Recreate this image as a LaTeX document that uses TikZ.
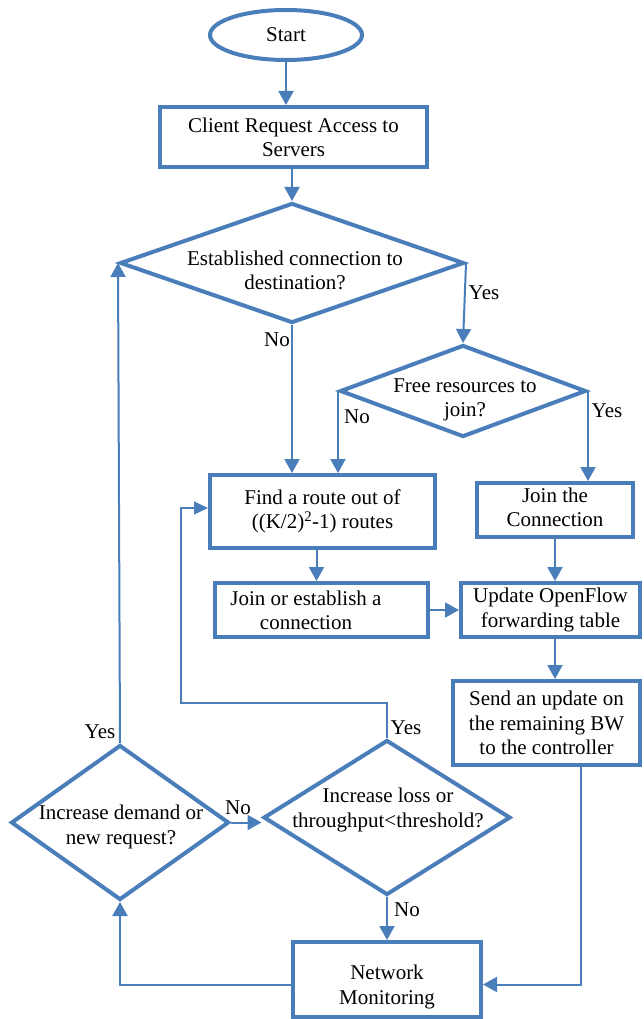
\documentclass[tikz,border=0pt]{standalone}
\usepackage{fontspec}
\setmainfont{Liberation Serif}
\usetikzlibrary{shapes.geometric,arrows.meta,calc}
\definecolor{flowblue}{HTML}{4A7EBB}
\begin{document}
\begin{tikzpicture}[x=1pt, y=-1pt,
  font=\fontsize{21}{24.2}\selectfont,
  box/.style={draw=flowblue, line width=4pt, rectangle, inner sep=0pt, align=center},
  dia/.style={draw=flowblue, line width=4pt, diamond, inner sep=0pt},
  oval/.style={draw=flowblue, line width=4pt, ellipse, inner sep=0pt},
  txt/.style={align=center, inner sep=0pt},
  lbl/.style={inner sep=0pt},
  conn/.style={draw=flowblue, line width=2pt, -{Triangle[length=14pt,width=15pt]}},
  thinconn/.style={draw=flowblue, line width=1.2pt, -{Triangle[length=14pt,width=13pt]}}]
\useasboundingbox (0,0) rectangle (643,1019);

% shapes
\node[oval, minimum width=152pt, minimum height=50pt] (start) at (286,35) {Start};
\node[box, minimum width=267pt, minimum height=60pt] (client) at (293.5,137) {Client Request Access to\\Servers};
\node[dia, minimum width=344pt, minimum height=120pt] (d1) at (292,263) {};
\node[txt] (t1) at (295,270) {Established connection to\\destination?};
\node[dia, minimum width=246pt, minimum height=92pt] (d2) at (463,391) {};
\node[txt] (t2) at (465,400) {Free resources to\\join?};
\node[box, minimum width=225pt, minimum height=73pt] (find) at (322.5,511.5) {Find a route out of\\((K/2)\textsuperscript{2}-1) routes};
\node[box, minimum width=156pt, minimum height=54pt] (joinc) at (555,510) {};
\node[txt] (tjoinc) at (555,507) {Join the\\Connection};
\node[box, minimum width=213pt, minimum height=54pt] (jo) at (321.5,610) {};
\node[txt] (tjo) at (306,610) {Join or establish a\\connection};
\node[box, minimum width=179pt, minimum height=54pt] (upd) at (550.5,610) {Update OpenFlow\\forwarding table};
\node[box, minimum width=187pt, minimum height=84pt] (send) at (546.5,723) {Send an update on\\the remaining BW\\to the controller};
\node[dia, minimum width=247pt, minimum height=155pt] (d3) at (387,817.5) {};
\node[txt] (t3) at (388,810) {Increase loss or\\throughput<threshold?};
\node[dia, minimum width=218pt, minimum height=155pt] (d4) at (120,822.5) {};
\node[txt] (t4) at (121,827) {Increase demand or\\new request?};
\node[box, minimum width=188pt, minimum height=75pt] (net) at (387,979.5) {};
\node[txt] (tnet) at (387,987) {Network\\Monitoring};

% connectors
\draw[conn] (start.south) -- (start.south |- client.north);
\draw[conn] (d1.north |- client.south) -- (d1.north);
\draw[conn] (d1.east) -- (d2.north);
\draw[conn] (d1.south) -- (d1.south |- find.north);
\draw[conn] (d2.west) -- (d2.west |- find.north);
\draw[conn] (d2.east) -- (d2.east |- joinc.north);
\coordinate (fs) at ($(find.south)+(-6,0)$);
\draw[conn] (fs) -- (fs |- jo.north);
\draw[conn] (jo.east) -- (jo.east -| upd.west);
\draw[conn] (joinc.south) -- (joinc.south |- upd.north);
\draw[conn] (joinc.south |- upd.south) -- (joinc.south |- send.north);
\coordinate (sx) at (581,0);
\draw[conn] (sx |- send.south) |- ($(net.east)+(0,5)$);
\draw[conn] ($(net.west)+(0,5)$) -| (d4.south);
\draw[conn] (d4.north) -- (d1.west);
\draw[conn] (d4.east) -- (d4.east -| d3.west);
\draw[conn] (d3.south) -- (d3.south |- net.north);
\coordinate (lp) at (181,703);
\draw[thinconn] (d3.north) |- (lp) |- ($(find.west)+(0,-3.5)$);

% branch labels
\node[lbl] (yes1) at (484,293) {Yes};
\node[lbl] (no1) at (277,340) {No};
\node[lbl] (no2) at (357,417) {No};
\node[lbl] (yes2) at (607,411) {Yes};
\node[lbl] (yes3) at (406,728) {Yes};
\node[lbl] (yes4) at (100,732) {Yes};
\node[lbl] (no3) at (238,808) {No};
\node[lbl] (no4) at (407,910) {No};
\end{tikzpicture}
\end{document}
